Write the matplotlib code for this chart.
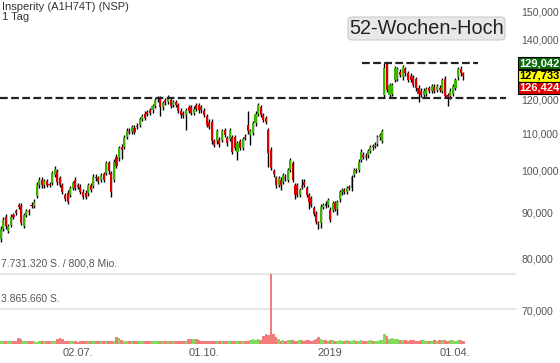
import matplotlib
matplotlib.use("Agg")
import matplotlib.pyplot as plt
from matplotlib.patches import FancyBboxPatch, Rectangle
import matplotlib.transforms as mtransforms

plt.rcParams['font.family'] = ['Liberation Sans', 'DejaVu Sans']

# ---------------- data (open, close) ----------------
seg1 = [(84.2,86.5),(86.5,88.5),(89.2,87.0),(86.0,87.0),(87.3,89.2),(89.5,89.2),(90.4,90.1),(91.9,91.5),
        (91.7,87.8),(87.1,89.6),(89.6,90.4),(90.4,90.2),(92.0,91.7),(91.7,92.7),(94.0,96.8),(96.6,98.0),
        (98.0,96.6),(96.6,97.6),(97.6,96.8),(96.9,96.7),(97.3,99.7),(99.2,100.8),(100.2,97.4),(98.4,96.7),
        (96.7,95.1),(94.3,93.3),(94.8,92.7),(94.3,95.9),(96.0,97.1),(98.0,96.0),(96.6,96.2),(96.3,95.1),
        (95.1,93.9),(94.8,93.9),(94.7,96.7),(96.7,95.5),(96.5,98.8),(98.8,98.4),(98.4,97.6),(98.0,99.2),
        (99.4,98.0),(99.8,102.2),(102.2,100.1),(99.6,95.1),(98.0,102.6),(104.0,101.5),(103.5,106.2),(106.6,105.8),
        (106.6,109.1),(109.4,111.1),(111.1,110.8),(110.8,112.1),(111.9,110.8),(112.5,112.2),(112.7,114.4),(114.5,115.2),
        (116.0,114.7),(116.4,115.9),(117.1,116.2),(117.0,118.3),(118.4,120.1),(120.3,120.7),(120.6,117.9),(117.9,119.2),
        (120.0,119.4),(119.6,121.0),(120.1,118.4),(118.7,119.5),(119.5,118.7),(118.6,116.9),(116.9,115.5),(116.2,115.5),
        (115.5,117.0),(117.9,116.9),(117.9,116.2),(116.2,117.5),(118.6,117.5),(118.6,117.0),(117.9,117.0),(116.9,115.6),
        (115.2,112.7),(113.7,112.1),(113.7,108.1),(108.1,107.1),(108.1,110.9),(108.6,107.3),(108.6,110.9),(111.3,109.9),
        (108.9,107.6),(108.8,111.3),(109.2,105.3),(109.2,106.3),(105.3,107.6),(108.1,106.3),(106.3,108.7),(109.4,109.0),
        (112.7,110.9),(110.0,110.9),(110.5,113.2),(113.2,116.0),(116.0,118.6),(118.0,115.7),(115.6,114.2),(114.7,113.7),
        (111.3,104.9),(105.8,101.0),(100.1,99.4),(98.4,96.6),(96.7,98.4)]
seg2 = [(98.0,96.7),(97.5,99.2),(98.8,98.4),(98.0,100.5),(100.5,103.1),(102.2,98.0),(96.7,94.3),(96.7,94.3),
        (94.3,95.5),(96.5,96.2),(97.5,96.7),(96.0,94.3),(94.3,92.7),(93.5,92.0),(91.1,89.9),(89.9,88.1),
        (87.7,87.5),(87.8,91.5),(91.5,91.9),(92.2,91.7),(92.0,93.0),(90.8,88.5),(90.8,92.3),(92.4,91.0),
        (91.0,92.6),(93.2,94.9),(94.9,95.4),(95.4,95.0),(95.0,95.9),(96.2,96.0),(95.9,98.6),(99.2,100.5),
        (100.5,100.2),(100.5,102.6),(103.1,105.3),(104.5,104.0),(104.2,103.8),(104.3,105.4),(105.5,106.5),(106.7,106.5),
        (106.9,107.2),(107.4,109.2),(109.2,109.9),(108.3,110.9)]
seg3 = [(121.7,130.3),(131.6,123.3),(121.7,124.8),(122.0,124.8),(126.4,130.3),(126.8,130.0),(129.1,128.1),(127.3,130.7),
        (129.9,128.6),(128.7,126.4),(127.8,126.4),(127.3,124.8),(126.7,123.8),(124.0,122.0),(123.0,121.7),(121.7,123.0),
        (122.0,123.6),(123.8,123.0),(123.0,124.5),(124.3,123.0),(123.2,124.5),(124.0,123.3),(123.0,126.4),(126.9,121.4),
        (121.7,120.9),(121.3,123.0),(122.0,124.5),(124.0,126.4),(127.3,130.0),(129.9,128.6),(128.6,127.733)]

# long wicks: {candle number within segment: price}
seg_highs = [{96: 116.9}, {9: 98.3}, {0: 131.9, 29: 130.9, 30: 129.042}]
seg_lows = [{43: 93.8, 47: 103.3, 62: 115.4, 72: 111.3, 92: 103.1, 97: 107.1, 104: 101.3},
            {0: 95.5, 6: 93.3, 12: 91.0, 16: 86.4, 17: 86.6, 21: 87.9, 24: 89.5},
            {13: 119.4, 24: 118.4, 30: 126.424}]

# volumes (shares) per candle, per segment
vol1 = ([300000]*7 + [650000, 600000] + [300000, 350000, 280000, 320000, 300000, 260000, 340000, 300000, 280000,
        310000, 330000, 300000, 290000] + [600000, 650000, 550000] + [320000, 300000, 280000, 350000, 300000, 260000,
        300000, 330000, 280000, 300000, 320000, 290000, 310000, 300000, 280000, 330000, 300000, 350000, 300000, 280000]
        + [750000, 700000] + [400000, 350000, 300000, 320000, 280000, 300000, 330000, 310000, 290000, 300000, 350000,
        320000, 300000, 280000, 330000, 300000, 310000, 290000, 300000, 320000, 340000, 300000, 280000, 300000, 310000,
        330000] + [550000, 600000, 500000, 550000, 450000] + [320000, 300000, 350000, 300000, 280000, 330000, 300000,
        310000, 290000, 300000, 320000, 340000, 300000, 280000, 300000, 310000, 330000, 300000, 320000]
        + [450000, 500000, 450000, 500000, 450000] + [900000, 1100000, 1000000, 7731320, 1100000, 800000, 500000])
vol2 = ([350000, 400000, 380000, 420000, 400000, 450000, 380000, 360000, 400000, 420000, 380000, 400000, 420000,
         380000, 450000, 600000, 800000, 500000, 420000, 400000, 380000, 420000, 400000, 380000, 360000, 400000,
         380000, 350000, 400000, 380000, 360000, 400000, 350000, 380000, 400000, 360000, 350000, 380000, 400000,
         360000, 350000, 380000, 400000, 420000])
vol3 = ([1100000, 900000, 600000, 650000, 550000, 500000, 450000, 420000, 400000, 380000, 420000, 400000, 380000,
         360000, 400000, 420000, 380000, 360000, 350000, 400000, 380000, 420000, 400000, 450000, 380000, 400000,
         420000, 380000, 450000, 400000, 350000])

seg_start = [0, 138, 189]      # trading-day index of each segment's first candle
seg_end = [137, 188, 228]      # trading-day index of each segment's last candle

price_ticks = [70, 80, 90, 100, 110, 120, 140, 150]
date_ticks = ["02.07.", "01.10.", "2019", "01.04."]
date_pos = [38, 100, 162, 224]
vol_levels = [3865660, 7731320]
vol_texts = ["3.865.660 S.", "7.731.320 S. / 800,8 Mio."]
last_tags = [("129,042", "#0b6b0b", "white"), ("127,733", "#ffff00", "black"), ("126,424", "#e00000", "white")]
hi52 = 131.9
support = 120.7

# ---------------- assemble ----------------
opens, closes, highs, lows, volumes, xs, widths = [], [], [], [], [], [], []
for seg, vol, a, b, hov, lov in zip([seg1, seg2, seg3], [vol1, vol2, vol3], seg_start, seg_end, seg_highs, seg_lows):
    step = (b - a) / (len(seg) - 1)
    for k, ((o, c), v) in enumerate(zip(seg, vol)):
        opens.append(o)
        closes.append(c)
        highs.append(hov.get(k, max(o, c) * 1.006))
        lows.append(lov.get(k, min(o, c) * 0.994))
        volumes.append(v)
        xs.append(a + k * step)
        widths.append(step)

W, H = 560, 363
fig = plt.figure(figsize=(W / 100, H / 100), dpi=100)
ax = fig.add_axes([0, 0, 1, 1])
ax.set_yscale('log')
ax.set_xlim(-0.3, 275.6)
ax.set_ylim(61.4, 155.06)
ax.axis('off')

GREEN = '#3db400'
RED = '#dd0000'
up = [c >= o for o, c in zip(opens, closes)]
cols = [GREEN if u else RED for u in up]
ax.vlines(xs, lows, highs, color='black', lw=1.0, zorder=2)
ax.bar(xs, [abs(c - o) if abs(c - o) > 0.2 else 0.2 for o, c in zip(opens, closes)],
       bottom=[min(o, c) for o, c in zip(opens, closes)], width=[w * 0.8 for w in widths],
       color=cols, zorder=3, linewidth=0)

# dashed lines
ax.plot([-0.3, 249], [support, support], ls=(0, (3.5, 1.5)), color='#222222', lw=1.6, zorder=4)
ax.plot([178, 235], [hi52, hi52], ls=(0, (3.5, 1.5)), color='#222222', lw=1.6, zorder=4)

# volume axes
vax = fig.add_axes([0, 0, 1, 1])
vax.set_xlim(-0.3, 275.6)
vax.set_ylim(-2098501, 37993629)
vax.axis('off')
vax.patch.set_alpha(0)
vcols = ['#86d95f' if u else '#f27c7c' for u in up]
vax.bar(xs, volumes, width=widths, color=vcols, zorder=1, linewidth=0)
for lv, tx in zip(vol_levels, vol_texts):
    vax.axhline(lv, xmin=0, xmax=515 / W, color='#e6e6e6', lw=1.5, zorder=0)
    vax.text(1, lv + 600000, tx, transform=mtransforms.blended_transform_factory(
        mtransforms.IdentityTransform(), vax.transData), fontsize=7.5, color='#555555', va='bottom', ha='left')

# price labels
tr = mtransforms.blended_transform_factory(fig.transFigure, ax.transData)
for p in price_ticks:
    ax.text(521 / W, p, f"{p},000", transform=tr, fontsize=7.6, color='#555555', va='center', ha='left')

# tags
tag_y = [63, 75.5, 88]
for (txt, bg, fg), yc in zip(last_tags, tag_y):
    fig.patches.append(Rectangle((518 / W, 1 - (yc + 6) / H), 42 / W, 12 / H, transform=fig.transFigure,
                                 facecolor=bg, edgecolor='black', lw=0.8, zorder=5))
    fig.text(539 / W, 1 - yc / H, txt, fontsize=8, color=fg, ha='center', va='center', fontweight='bold', zorder=6)

# date labels
trx = mtransforms.blended_transform_factory(ax.transData, fig.transFigure)
for lab, pos in zip(date_ticks, date_pos):
    ax.text(pos, 1 - 353 / H, lab, transform=trx, fontsize=8, color='#555555', ha='center', va='center')

# title
fig.text(2 / W, 1 - 7 / H, "Insperity (A1H74T) (NSP)", fontsize=8, color='#333333', va='center', ha='left')
fig.text(2 / W, 1 - 17 / H, "1 Tag", fontsize=8, color='#333333', va='center', ha='left')

# 52-week-high box
fig.patches.append(FancyBboxPatch((348 / W, 1 - 40 / H), 157 / W, 23 / H, boxstyle='round,pad=0,rounding_size=0.008',
                                  transform=fig.transFigure, facecolor='#e8e8e8', edgecolor='#cccccc', lw=0.8))
fig.text(426.5 / W, 1 - 28 / H, "52-Wochen-Hoch", fontsize=14.3, color='#222222', ha='center', va='center')

fig.savefig('out.png', dpi=100)
